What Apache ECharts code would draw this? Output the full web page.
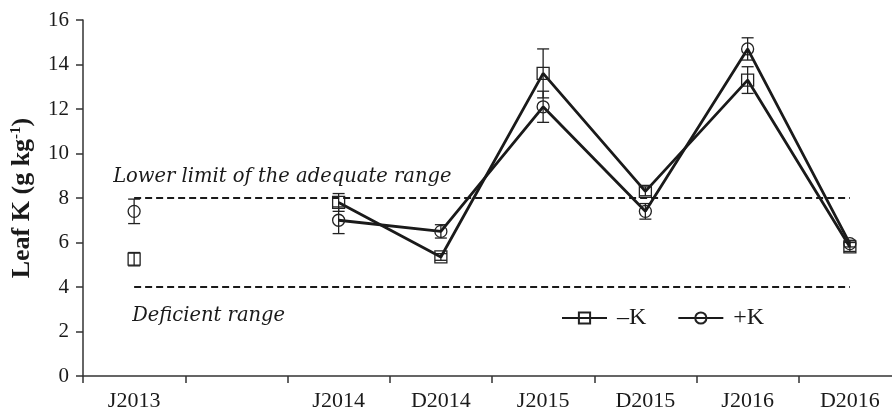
<!DOCTYPE html>
<html>
<head>
<meta charset="utf-8">
<script src="https://cdn.jsdelivr.net/npm/echarts@6/dist/echarts.min.js"></script>
<style>
html,body{margin:0;padding:0;background:#fff;overflow:hidden;width:892px;height:413px;}
#chart{width:901px;height:413px;}
</style>
</head>
<body>
<div id="chart"></div>
<script>
// ---- data ----
var categories = ['J2013', '', 'J2014', 'D2014', 'J2015', 'D2015', 'J2016', 'D2016'];
var minusK     = [5.25, null, 7.8, 5.35, 13.6, 8.3, 13.3, 5.8];
var minusKErr  = [0.3,  null, 0.4, 0.15, 1.1,  0.2, 0.6,  0.2];
var plusK      = [7.4,  null, 7.0, 6.5,  12.1, 7.4, 14.7, 5.95];
var plusKErr   = [0.55, null, 0.6, 0.3,  0.7,  0.35, 0.5, 0.15];
var yTicks = {min: 0, max: 16, interval: 2};
var adequateLimit = 8;
var deficientLimit = 4;
var seriesNames = ['\u2013K', '+K'];
var annotAdequate = 'Lower limit of the adequate range';
var annotDeficient = 'Deficient range';

var serif = '"Liberation Serif", "Times New Roman", serif';
var annFont = '"DejaVu Serif", serif';
var ink = '#1a1a1a';

function errData(vals, errs) {
  var out = [];
  for (var i = 0; i < vals.length; i++) {
    if (vals[i] != null) out.push([i, vals[i], errs[i]]);
  }
  return out;
}

function renderErr(params, api) {
  var x = api.value(0), v = api.value(1), e = api.value(2);
  var top = api.coord([x, v + e]);
  var bot = api.coord([x, v - e]);
  var hw = 6;
  var st = {stroke: '#222', lineWidth: 1.3};
  return {
    type: 'group',
    children: [
      {type: 'line', shape: {x1: top[0], y1: top[1], x2: bot[0], y2: bot[1]}, style: st},
      {type: 'line', shape: {x1: top[0] - hw, y1: top[1], x2: top[0] + hw, y2: top[1]}, style: st},
      {type: 'line', shape: {x1: bot[0] - hw, y1: bot[1], x2: bot[0] + hw, y2: bot[1]}, style: st}
    ]
  };
}

var chart = echarts.init(document.getElementById('chart'), null, {renderer: 'canvas'});

var option = {
  animation: false,
  backgroundColor: '#fff',
  grid: {left: 83, right: 0, top: 20, bottom: 37, containLabel: false},
  legend: {
    data: seriesNames,
    left: 561, top: 306, padding: 0,
    itemWidth: 45, itemHeight: 14, itemGap: 31,
    textStyle: {fontFamily: serif, fontSize: 24, color: ink, padding: [0, 0, 0, 5]}
  },
  xAxis: {
    type: 'category',
    data: categories,
    boundaryGap: true,
    axisLine: {lineStyle: {color: '#333', width: 1.5}},
    axisTick: {show: true, length: 7, inside: false, lineStyle: {color: '#333', width: 1.5}},
    axisLabel: {fontFamily: serif, fontSize: 22, color: ink, margin: 14, interval: 0},
    splitLine: {show: false}
  },
  yAxis: {
    type: 'value',
    min: yTicks.min, max: yTicks.max, interval: yTicks.interval,
    name: 'Leaf K (g kg{sup|-1})',
    nameLocation: 'middle',
    nameGap: 48,
    nameRotate: 90,
    nameTextStyle: {
      fontFamily: serif, fontSize: 26, fontWeight: 'bold', color: ink,
      rich: {sup: {fontFamily: serif, fontSize: 15, fontWeight: 'bold', color: ink, verticalAlign: 'top', padding: [0, 0, 10, 0]}}
    },
    axisLine: {show: true, lineStyle: {color: '#333', width: 1.5}},
    axisTick: {show: true, length: 7, inside: false, lineStyle: {color: '#333', width: 1.5}},
    axisLabel: {fontFamily: serif, fontSize: 21, color: ink, margin: 14},
    splitLine: {show: false}
  },
  series: [
    {
      name: 'errMinus', type: 'custom', renderItem: renderErr,
      data: errData(minusK, minusKErr), encode: {x: 0, y: 1}, z: 1, silent: true
    },
    {
      name: 'errPlus', type: 'custom', renderItem: renderErr,
      data: errData(plusK, plusKErr), encode: {x: 0, y: 1}, z: 1, silent: true
    },
    {
      name: seriesNames[0], type: 'line', data: minusK,
      connectNulls: false,
      symbol: 'rect', symbolSize: 12, showAllSymbol: true,
      lineStyle: {color: ink, width: 2.8},
      itemStyle: {color: 'rgba(255,255,255,0)', borderColor: '#222', borderWidth: 1.3},
      z: 3,
      markLine: {
        silent: true, symbol: 'none',
        lineStyle: {color: ink, type: [7, 4], width: 2},
        label: {show: false},
        data: [
          [{coord: [categories[0], adequateLimit]}, {coord: [categories[categories.length - 1], adequateLimit]}],
          [{coord: [categories[0], deficientLimit]}, {coord: [categories[categories.length - 1], deficientLimit]}]
        ]
      }
    },
    {
      name: seriesNames[1], type: 'line', data: plusK,
      connectNulls: false,
      symbol: 'circle', symbolSize: 12, showAllSymbol: true,
      lineStyle: {color: ink, width: 2.8},
      itemStyle: {color: 'rgba(255,255,255,0)', borderColor: '#222', borderWidth: 1.3},
      z: 3
    }
  ]
};
chart.setOption(option);

// place annotation texts relative to the reference lines
var pUp = chart.convertToPixel({gridIndex: 0}, [0, adequateLimit]);
var pLo = chart.convertToPixel({gridIndex: 0}, [0, deficientLimit]);
chart.setOption({
  graphic: [
    {type: 'text', left: pUp[0] - 21, top: pUp[1] - 31,
     style: {text: annotAdequate, font: 'italic 19.5px ' + annFont, fill: ink}},
    {type: 'text', left: pLo[0] - 2, top: pLo[1] + 19,
     style: {text: annotDeficient, font: 'italic 19.5px ' + annFont, fill: ink}}
  ]
});
</script>
</body>
</html>
